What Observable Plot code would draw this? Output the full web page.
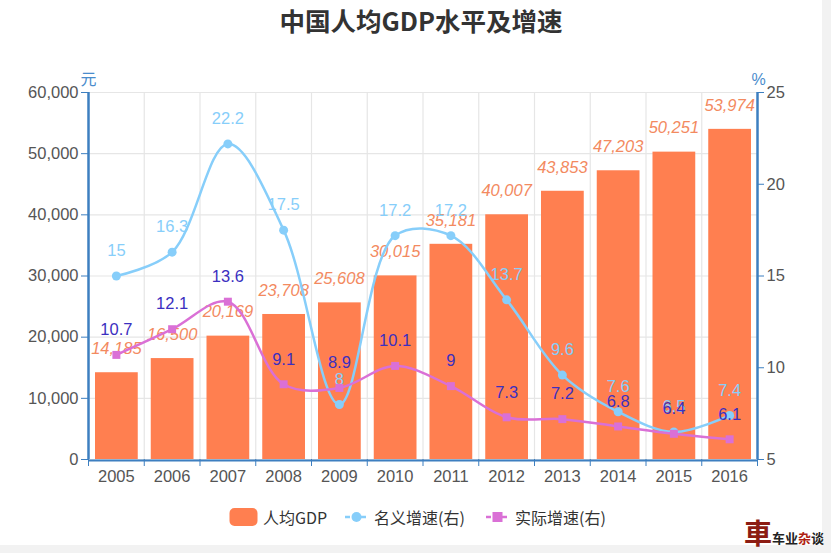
<!DOCTYPE html>
<html><head><meta charset="utf-8">
<script src="https://cdn.jsdelivr.net/npm/d3@7"></script>
<script src="https://cdn.jsdelivr.net/npm/@observablehq/plot@0.6"></script>
<style>
body{margin:0;background:#f2f2f2;font-family:"Liberation Sans",Arial,sans-serif;}
#wrap{position:relative;width:831px;height:553px;overflow:hidden}
#bg{position:absolute;left:0;top:0;width:822px;height:545px;background:#fff}
#chart{position:absolute;left:0;top:0}
#title{position:absolute;top:1px;left:0;width:842px;text-align:center;font:bold 25.5px "Noto Sans CJK SC",sans-serif;color:#333}
.leg{position:absolute;top:506px;height:22px;display:flex;align-items:center;font:16px "Noto Sans CJK SC",sans-serif;color:#333;white-space:nowrap}
.leg svg{margin-right:5px}
#wm{position:absolute;left:744px;top:518px;display:flex;align-items:flex-end;font-family:"Noto Sans CJK SC",serif}
</style></head>
<body>
<div id="wrap">
  <div id="bg"></div>
  <div id="chart"></div>
  <div id="title">中国人均GDP水平及增速</div>
  <div class="leg" style="left:229px"><svg width="29" height="20"><rect x="0.5" y="1" width="28" height="18" rx="5" fill="#ff7f50"/></svg><span>人均GDP</span></div>
  <div class="leg" style="left:344px"><svg width="25" height="20"><line x1="1" x2="24" y1="10" y2="10" stroke="#87cefa" stroke-width="2.5" stroke-dasharray="5,3"/><circle cx="12.5" cy="10" r="5" fill="#87cefa"/></svg><span>名义增速(右)</span></div>
  <div class="leg" style="left:485px"><svg width="25" height="20"><line x1="1" x2="24" y1="10" y2="10" stroke="#da70d6" stroke-width="2.5" stroke-dasharray="5,3"/><rect x="7.5" y="5" width="10" height="10" fill="#da70d6"/></svg><span>实际增速(右)</span></div>
  <div id="wm"><span style="font-size:28px;font-weight:bold;color:#8c1c13;line-height:28px">車</span><span style="font-size:13px;font-weight:bold;color:#222;line-height:16px">车业<span style="color:#b01e12">杂</span>谈</span></div>
</div>
<script>
const years = [2005, 2006, 2007, 2008, 2009, 2010, 2011, 2012, 2013, 2014, 2015, 2016];
const gdp = [14185, 16500, 20169, 23708, 25608, 30015, 35181, 40007, 43853, 47203, 50251, 53974];
const nominal = [15, 16.3, 22.2, 17.5, 8, 17.2, 17.2, 13.7, 9.6, 7.6, 6.5, 7.4];
const real = [10.7, 12.1, 13.6, 9.1, 8.9, 10.1, 9, 7.3, 7.2, 6.8, 6.4, 6.1];
const leftTicks = [0, 10000, 20000, 30000, 40000, 50000, 60000];
const rightTicks = [5, 10, 15, 20, 25];
const leftMax = 60000, rightMin = 5, rightMax = 25;

const toLeft = v => (v - rightMin) / (rightMax - rightMin) * leftMax;
const toRight = v => Math.round(v / leftMax * (rightMax - rightMin) + rightMin);
const rows = years.map((year, i) => ({year, gdp: gdp[i], nominal: nominal[i], real: real[i]}));
const bounds = years.map(y => y - 0.5).concat([years[years.length - 1] + 0.5]);
const axisBlue = "#3d7fc0";
const fmt = d3.format(",");

const chart = Plot.plot({
  width: 831, height: 553,
  marginTop: 92, marginBottom: 94, marginLeft: 88, marginRight: 74,
  x: {type: "linear", domain: [bounds[0], bounds[bounds.length - 1]], label: null},
  y: {domain: [0, leftMax], label: null},
  style: {background: "transparent", fontFamily: "'Liberation Sans', Arial, sans-serif", fontSize: "16.5px"},
  marks: [
    Plot.ruleY(leftTicks, {stroke: "#e6e6e6", strokeWidth: 1.2}),
    Plot.ruleX(bounds, {stroke: "#e6e6e6", strokeWidth: 1.2}),
    Plot.rectY(rows, {x1: d => d.year - 0.5, x2: d => d.year + 0.5, y: "gdp", insetLeft: 7, insetRight: 6, fill: "#ff7f50"}),
    Plot.text(rows, {x: "year", y: "gdp", text: d => fmt(d.gdp), dy: -24, fill: "#f38a5f", fontStyle: "italic", fontSize: 16.5}),
    Plot.line(rows, {x: "year", y: d => toLeft(d.nominal), stroke: "#87cefa", strokeWidth: 2.5, curve: "catmull-rom"}),
    Plot.dot(rows, {x: "year", y: d => toLeft(d.nominal), r: 4.5, fill: "#87cefa"}),
    Plot.text(rows, {x: "year", y: d => toLeft(d.nominal), text: d => String(d.nominal), dy: -25, fill: "#87cefa", fontSize: 16.5}),
    Plot.line(rows, {x: "year", y: d => toLeft(d.real), stroke: "#da70d6", strokeWidth: 2.5, curve: "catmull-rom"}),
    Plot.dot(rows, {x: "year", y: d => toLeft(d.real), r: 4.5, symbol: "square", fill: "#da70d6"}),
    Plot.text(rows, {x: "year", y: d => toLeft(d.real), text: d => String(d.real), dy: -25, fill: "#3b2fc0", fontSize: 16.5}),
    Plot.axisY(leftTicks, {anchor: "left", label: null, tickSize: 7, tickPadding: 3, tickFormat: fmt, stroke: axisBlue, fill: "#555", fontSize: 16.5}),
    Plot.axisY(rightTicks.map(toLeft), {anchor: "right", label: null, tickSize: 6, tickPadding: 3, tickFormat: toRight, stroke: axisBlue, fill: "#555", fontSize: 16.5}),
    Plot.axisX(years, {anchor: "bottom", label: null, tickSize: 0, tickPadding: 11, tickFormat: d => String(d), fill: "#555", fontSize: 16.5}),
    Plot.axisX(bounds, {anchor: "bottom", label: null, tickSize: 7, tickPadding: 0, tickFormat: () => "", stroke: axisBlue}),
    Plot.ruleY([0], {stroke: axisBlue, strokeWidth: 2, dy: 1}),
    Plot.ruleX([bounds[0]], {stroke: axisBlue, strokeWidth: 2.5}),
    Plot.ruleX([bounds[bounds.length - 1]], {stroke: axisBlue, strokeWidth: 2.5}),
    Plot.text(["元"], {frameAnchor: "top-left", dy: -19, text: d => d, fill: "#4a8ccc", fontSize: 16, fontFamily: "Noto Sans CJK SC", textAnchor: "middle"}),
    Plot.text(["%"], {frameAnchor: "top-right", dy: -19, dx: 1, text: d => d, fill: "#4a8ccc", fontSize: 16, textAnchor: "middle"})
  ]
});
document.getElementById("chart").appendChild(chart);
</script>
</body></html>
